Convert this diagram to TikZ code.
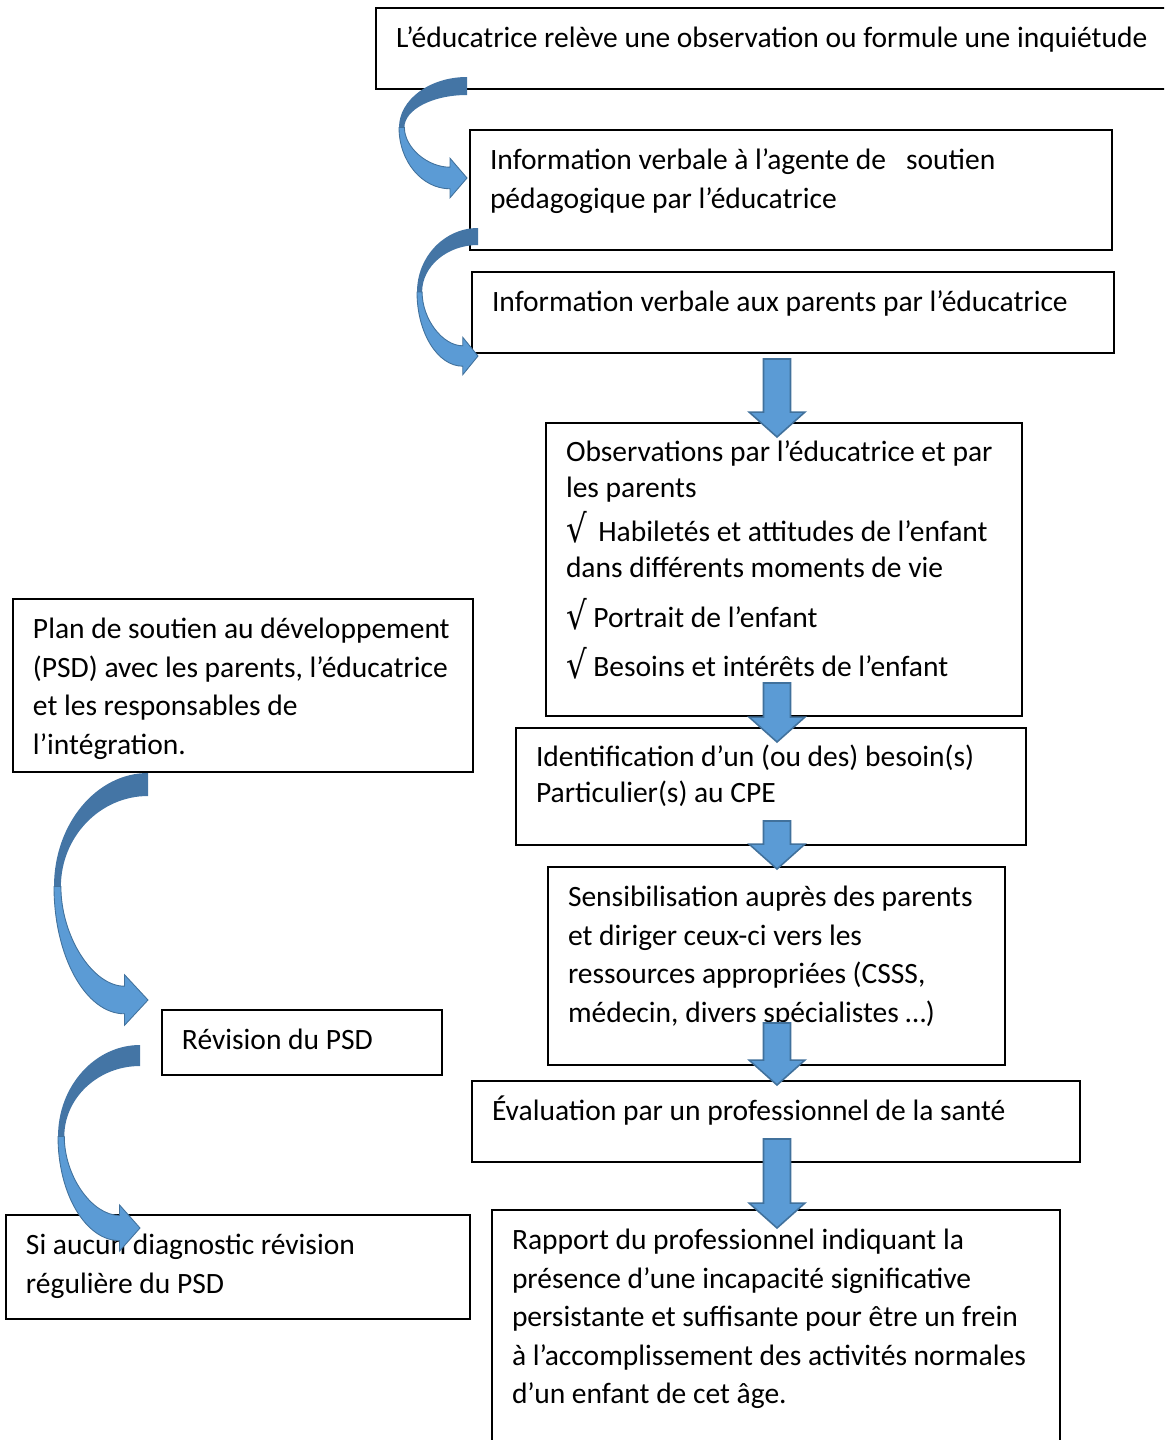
\documentclass[tikz,border=0pt]{standalone}
\usepackage{fontspec}
\setmainfont{Carlito}
\newfontfamily\symfont{DejaVu Sans}
\usetikzlibrary{calc}
\definecolor{arrfill}{RGB}{91,155,213}
\definecolor{arredge}{RGB}{65,113,156}
\definecolor{arrdark}{RGB}{68,117,165}
\newlength\unitpx
\setlength\unitpx{0.02cm}
% text of a box: width, height (in px), contents at the top
\newcommand\boxtext[3]{\parbox[t][#2\unitpx][t]{#1\unitpx}{\raggedright\strut #3}}
\newcommand\chk{\raisebox{-1pt}{\scalebox{1.1}[1.3]{\symfont √}}}
% straight block arrow from #1 (top of shaft) down to #2 (tip)
\newcommand\blockarr[2]{%
  \filldraw[blockarrow] let \p1=(#1), \p2=(#2) in
    (\x1-7.7pt,\y1) -- (\x1+7.7pt,\y1) -- (\x1+7.7pt,\y2+14.2pt) -- (\x1+15.9pt,\y2+14.2pt)
    -- (\x1,\y2) -- (\x1-15.9pt,\y2+14.2pt) -- (\x1-7.7pt,\y2+14.2pt) -- cycle;}
% curved arrow: tail x, tail top y, tail bottom y, leftmost x, tip y
\newcommand\curvedarr[5]{%
  \pgfmathsetmacro\cacy{(#2+#5)/2}
  \pgfmathsetmacro\carx{#1-#4}
  \pgfmathsetmacro\caw{#3-#2}
  \pgfmathsetmacro\cahx{#1-0.25*\carx}
  \pgfmathsetmacro\cank{0.6*\caw}
  \pgfmathsetmacro\cabb{1.1*\caw}
  \pgfmathsetmacro\cat{0.3*\caw}
  \fill[arrback] (#1,#2) .. controls ({#1-0.55*\carx},#2) and (#4,{\cacy-0.55*(\cacy-#2)}) .. (#4,\cacy)
    -- ({#4+\cat},\cacy) .. controls ({#4+\cat},{\cacy-0.55*(\cacy-#3)}) and ({#1-0.55*(\carx-\cat)},#3) .. (#1,#3) -- cycle;
  \filldraw[arrfront] (#4,\cacy) .. controls (#4,{\cacy+0.55*(#5+\cank-\cacy)}) and ({\cahx-0.55*(\cahx-#4)},{#5+\cank}) .. (\cahx,{#5+\cank})
    -- (\cahx,{#5+\cabb}) -- (#1,#5) -- (\cahx,{#5-\cabb}) -- (\cahx,{#5-\cank})
    .. controls ({\cahx-0.5*(\cahx-#4-\cat)},{#5-\cank}) and ({#4+\cat},{\cacy+0.5*(#5-\cank-\cacy)}) .. ({#4+\cat},\cacy) -- cycle;}

\begin{document}
\begin{tikzpicture}[x=0.02cm,y=-0.02cm,inner sep=0pt,outer sep=0pt,
box/.style={draw,fill=white,line width=1pt,anchor=north west,inner xsep=0.4cm,inner ysep=0.26cm,
  font=\fontsize{16.8pt}{21.9pt}\selectfont},
tight/.style={font=\fontsize{16.8pt}{20.5pt}\selectfont},
blockarrow/.style={fill=arrfill,draw=arredge,line width=0.9pt,line join=miter},
arrback/.style={fill=arrdark},
arrfront/.style={fill=arrfill,draw=arredge,line width=0.5pt}]
\useasboundingbox (0,0) rectangle (1164,1440);
\clip (0,0) rectangle (1164,1440);

% right column
\draw (376,8) node[box] (obs) {\boxtext{760}{55}{L’éducatrice relève une observation ou formule une inquiétude}};
\draw (470,130) node[box] (asp) {\boxtext{602}{94}{Information verbale à l’agente de \ \ soutien\\ pédagogique par l’éducatrice}};
\draw (472,272) node[box] (par) {\boxtext{602}{55}{Information verbale aux parents par l’éducatrice}};
\draw (546,423) node[box,tight] (obsv) {\boxtext{436}{267}{Observations par l’éducatrice et par\\ les parents\\[4.5pt]
  \chk\ \,Habiletés et attitudes de l’enfant\\ dans différents moments de vie\\[8pt]
  \chk\ Portrait de l’enfant\\[7.5pt]
  \chk\ Besoins et intérêts de l’enfant}};
\draw (516,728) node[box,tight] (ident) {\boxtext{470}{91}{Identification d’un (ou des) besoin(s)\\ Particulier(s) au CPE}};
\draw (548,867) node[box] (sens) {\boxtext{417}{172}{Sensibilisation auprès des parents\\ et diriger ceux-ci vers les\\ ressources appropriées (CSSS,\\ médecin, divers spécialistes …)}};
\draw (472,1081) node[box] (evalu) {\boxtext{568}{55}{Évaluation par un professionnel de la santé}};
\draw (492,1210) node[box] (rapp) {\boxtext{528}{234}{Rapport du professionnel indiquant la\\ présence d’une incapacité significative\\ persistante et suffisante pour être un frein\\ à l’accomplissement des activités normales\\ d’un enfant de cet âge.}};

% left column
\draw (13,599) node[box] (psd) {\boxtext{420}{147}{Plan de soutien au développement\\ (PSD) avec les parents, l’éducatrice\\ et les responsables de\\ l’intégration.}};
\draw (162,1010) node[box] (rev) {\boxtext{240}{39}{Révision du PSD}};
\draw (6,1215) node[box] (aucun) {\boxtext{424}{78}{Si aucun diagnostic révision\\ régulière du PSD}};

% block arrows
\coordinate (ax) at (777,0);
\blockarr{$(ax |- par.south)+(0,6)$}{$(ax |- obsv.north)+(0,14)$}
\blockarr{$(ax |- obsv.south)+(0,-33)$}{$(ax |- ident.north)+(0,14)$}
\blockarr{$(ax |- ident.south)+(0,-24)$}{$(ax |- sens.north)+(0,2)$}
\blockarr{$(ax |- sens.south)+(0,-42)$}{$(ax |- evalu.north)+(0,4)$}
\blockarr{$(ax |- evalu.south)+(0,-23)$}{$(ax |- rapp.north)+(0,18)$}

% curved arrows
\curvedarr{467}{77}{95}{399}{178}
\curvedarr{478}{228}{245}{417}{356}
\curvedarr{148}{773}{796}{54}{1000}
\curvedarr{140}{1045}{1066}{58}{1228}
\end{tikzpicture}
\end{document}
